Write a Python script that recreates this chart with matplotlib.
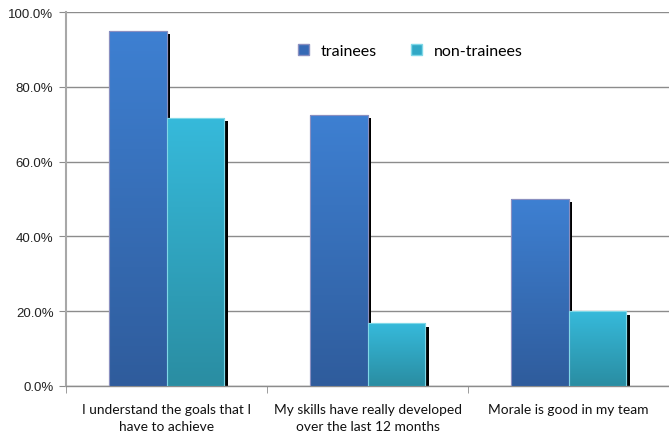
import numpy as np
import matplotlib
matplotlib.use("Agg")
import matplotlib.pyplot as plt
from matplotlib.colors import LinearSegmentedColormap
from matplotlib.patches import Rectangle, Patch

categories = ["I understand the goals that I\nhave to achieve",
              "My skills have really developed\nover the last 12 months",
              "Morale is good in my team"]
series_names = ["trainees", "non-trainees"]
trainees = [95.0, 72.5, 50.0]
non_trainees = [71.7, 16.8, 20.0]
y_ticks = [0, 20, 40, 60, 80, 100]

fig = plt.figure(figsize=(6.69, 4.39), dpi=100)
W, H = 669, 439
ax = fig.add_axes([66 / W, (H - 387) / H, (669 - 66) / W, (387 - 13) / H])

x = np.arange(len(categories))
bw = 0.288
tops = [("#3E80D2", "#2F5C9C", "#8A8FC0"), ("#36BADB", "#2A8DA2", "#7FD8E8")]
grad = np.linspace(0, 1, 256).reshape(-1, 1)

sx = 0.016
sy = 0.9
for i, (vals, (ctop, cbot, edge)) in enumerate(zip([trainees, non_trainees], tops)):
    xs = x + (i - 0.5) * bw
    ax.bar(xs + sx, np.array(vals) - sy, width=bw, color="black", zorder=2)
    bars = ax.bar(xs, vals, width=bw, color=ctop, edgecolor=edge, linewidth=0.8,
                  zorder=3, label=series_names[i])
    cmap = LinearSegmentedColormap.from_list("g%d" % i, [cbot, ctop])
    for b in bars:
        bx, by = b.get_x(), b.get_y()
        bwid, bh = b.get_width(), b.get_height()
        im = ax.imshow(grad, extent=[bx, bx + bwid, by, by + bh], origin="lower",
                       cmap=cmap, aspect="auto", zorder=3.5)
        im.set_clip_path(b)
        r = Rectangle((bx, by), bwid, bh, fill=False, edgecolor=edge, linewidth=0.8, zorder=4)
        ax.add_patch(r)

ax.set_xlim(-0.5, -0.5 + (669 - 66) / 202.5)
ax.set_ylim(0, 100)
ax.set_yticks(y_ticks)
ax.set_yticklabels(["%.1f%%" % v for v in y_ticks], fontfamily="Liberation Sans", fontsize=9.5, color="#222222")
ax.yaxis.grid(True, color="#8C8C8C", linewidth=1.0, zorder=0)
ax.set_axisbelow(True)

ax.set_xticks(x)
ax.set_xticklabels(categories, fontfamily="Lato", fontsize=9.9, color="#111111", linespacing=1.5)
ax.set_xticks([-0.5, 0.5, 1.5, 2.5], minor=True)
ax.tick_params(axis="x", which="major", length=0, pad=12)
ax.tick_params(axis="x", which="minor", length=5, color="#8C8C8C", direction="out")
ax.tick_params(axis="y", length=5, color="#8C8C8C", pad=4)

for s in ["top", "right"]:
    ax.spines[s].set_visible(False)
ax.spines["left"].set_color("#A8A8A8")
ax.spines["left"].set_linewidth(1.5)
ax.spines["bottom"].set_color("#8C8C8C")
ax.spines["bottom"].set_linewidth(1.0)

handles = [Patch(facecolor="#3569B5", edgecolor="#8A8FC0"), Patch(facecolor="#30A8C6", edgecolor="#7FD8E8")]
leg = ax.legend(handles, series_names, loc="upper left", bbox_to_anchor=((284 - 66) / 603, (387 - 31) / 374),
                ncol=2, frameon=False, prop={"family": "Lato", "size": 11.5},
                handlelength=0.65, handleheight=0.65, handletextpad=0.75, columnspacing=2.15)

fig.savefig("out.png", dpi=100)
